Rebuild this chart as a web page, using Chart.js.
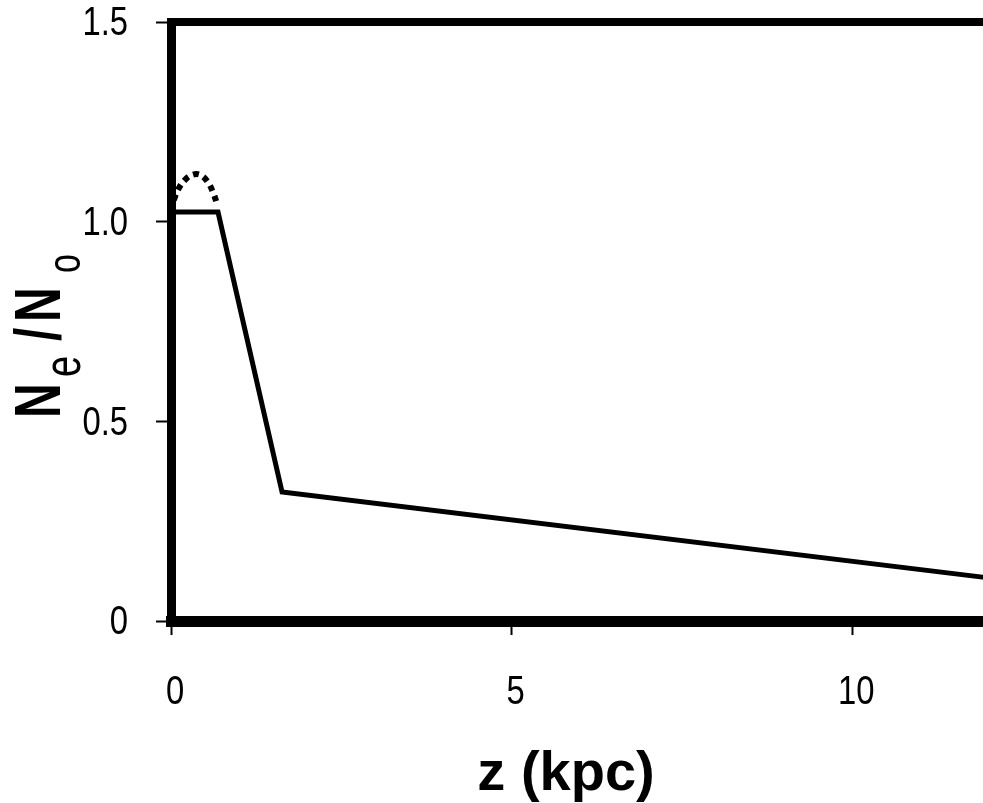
<!DOCTYPE html>
<html>
<head>
<meta charset="utf-8">
<script src="https://cdn.jsdelivr.net/npm/chart.js"></script>
<style>
  html, body { margin: 0; padding: 0; background: #fff; overflow: hidden; }
  #wrap { width: 1214px; height: 803px; position: relative; }
</style>
</head>
<body>
<div id="wrap"><canvas id="my-chart"></canvas></div>
<script>
// values
var solidZ = [0, 0.69, 1.63, 12.0];
var solidN = [1.024, 1.024, 0.323, 0.108];
var dotZ = [0.04, 0.10, 0.19, 0.31, 0.43, 0.54, 0.62, 0.68];
var dotN = [1.054, 1.079, 1.102, 1.117, 1.117, 1.099, 1.072, 1.042];
var xTicks = [0, 5, 10, 15];
var yTicks = [0, 0.5, 1.0, 1.5];

function toPoints(xs, ys) {
  var pts = [];
  for (var i in xs) {
    pts.push({x: xs[i], y: ys[i]});
  }
  return pts;
}

var labelFamily = '"Liberation Sans", Arial, sans-serif';

// narrow tick labels + axis titles with subscripts
var titlePlugin = {
  id: 'titles',
  afterDraw: function(chart) {
    var ctx = chart.ctx;
    var xs = chart.scales.x, ys = chart.scales.y;

    ctx.save();
    ctx.fillStyle = '#000';
    ctx.font = '41px ' + labelFamily;
    ctx.textBaseline = 'middle';
    ctx.textAlign = 'right';
    yTicks.forEach(function(v) {
      var py = ys.getPixelForValue(v);
      ctx.save();
      ctx.translate(128, py + 2);
      ctx.scale(0.8, 1);
      ctx.fillText(v === 0 ? '0' : v.toFixed(1), 0, 0);
      ctx.restore();
    });
    ctx.textAlign = 'center';
    ctx.textBaseline = 'alphabetic';
    xTicks.forEach(function(v) {
      var px = xs.getPixelForValue(v);
      ctx.save();
      ctx.translate(px + 4, 704);
      ctx.scale(0.8, 1);
      ctx.fillText(String(v), 0, 0);
      ctx.restore();
    });
    ctx.restore();

    ctx.save();
    ctx.fillStyle = '#000';
    ctx.textBaseline = 'alphabetic';
    ctx.translate(60, 418);
    ctx.rotate(-Math.PI / 2);
    ctx.scale(1, 1.35);
    ctx.font = 'bold 48px ' + labelFamily;
    ctx.fillText('N', 0, 0);
    ctx.font = '38px ' + labelFamily;
    ctx.fillText('e', 41, 14.6);
    ctx.font = 'bold 48px ' + labelFamily;
    ctx.fillText('/', 77, 0);
    ctx.fillText('N', 96, 0);
    ctx.font = '34px ' + labelFamily;
    ctx.fillText('o', 145, 14.6);
    ctx.restore();

    ctx.save();
    ctx.fillStyle = '#000';
    ctx.font = 'bold 56px ' + labelFamily;
    ctx.textAlign = 'center';
    ctx.textBaseline = 'alphabetic';
    ctx.fillText('z (kpc)', 566, 790);
    ctx.restore();
  }
};

function setTicks(list) {
  return function(scale) {
    scale.ticks = list.map(function(v) { return {value: v}; });
  };
}

var ctx = document.getElementById('my-chart');
var chart = new Chart(ctx, {
  type: 'line',
  data: {
    datasets: [
      {
        label: 'solid',
        data: toPoints(solidZ, solidN),
        borderColor: '#000',
        borderWidth: 5,
        pointRadius: 0,
        tension: 0,
        fill: false
      },
      {
        label: 'dotted',
        data: toPoints(dotZ, dotN),
        borderColor: '#000',
        borderWidth: 6,
        borderDash: [6, 5],
        pointRadius: 0,
        tension: 0.4,
        fill: false
      }
    ]
  },
  options: {
    responsive: true,
    maintainAspectRatio: false,
    animation: false,
    devicePixelRatio: 1,
    layout: {padding: {left: 0, top: 22, right: 21, bottom: 0}},
    plugins: {legend: {display: false}, tooltip: {enabled: false}},
    scales: {
      x: {
        type: 'linear',
        position: 'bottom',
        min: 0, max: 15,
        afterBuildTicks: setTicks(xTicks),
        afterFit: function(scale) { scale.height = 182; },
        border: {display: true, color: '#000', width: 11},
        grid: {drawOnChartArea: false, drawTicks: true, tickLength: 14, tickWidth: 2, tickColor: '#000'},
        ticks: {display: false}
      },
      x2: {
        type: 'linear',
        position: 'top',
        min: 0, max: 15,
        afterFit: function(scale) { scale.height = 0; },
        border: {display: true, color: '#000', width: 8},
        grid: {display: false},
        ticks: {display: false}
      },
      y: {
        type: 'linear',
        position: 'left',
        min: 0, max: 1.5,
        afterBuildTicks: setTicks(yTicks),
        afterFit: function(scale) { scale.width = 171; },
        border: {display: true, color: '#000', width: 9},
        grid: {drawOnChartArea: false, drawTicks: true, tickLength: 15, tickWidth: 2, tickColor: '#000'},
        ticks: {display: false}
      },
      y2: {
        type: 'linear',
        position: 'right',
        min: 0, max: 1.5,
        afterFit: function(scale) { scale.width = 0; },
        border: {display: true, color: '#000', width: 9},
        grid: {display: false},
        ticks: {display: false}
      }
    }
  },
  plugins: [titlePlugin]
});
</script>
</body>
</html>
